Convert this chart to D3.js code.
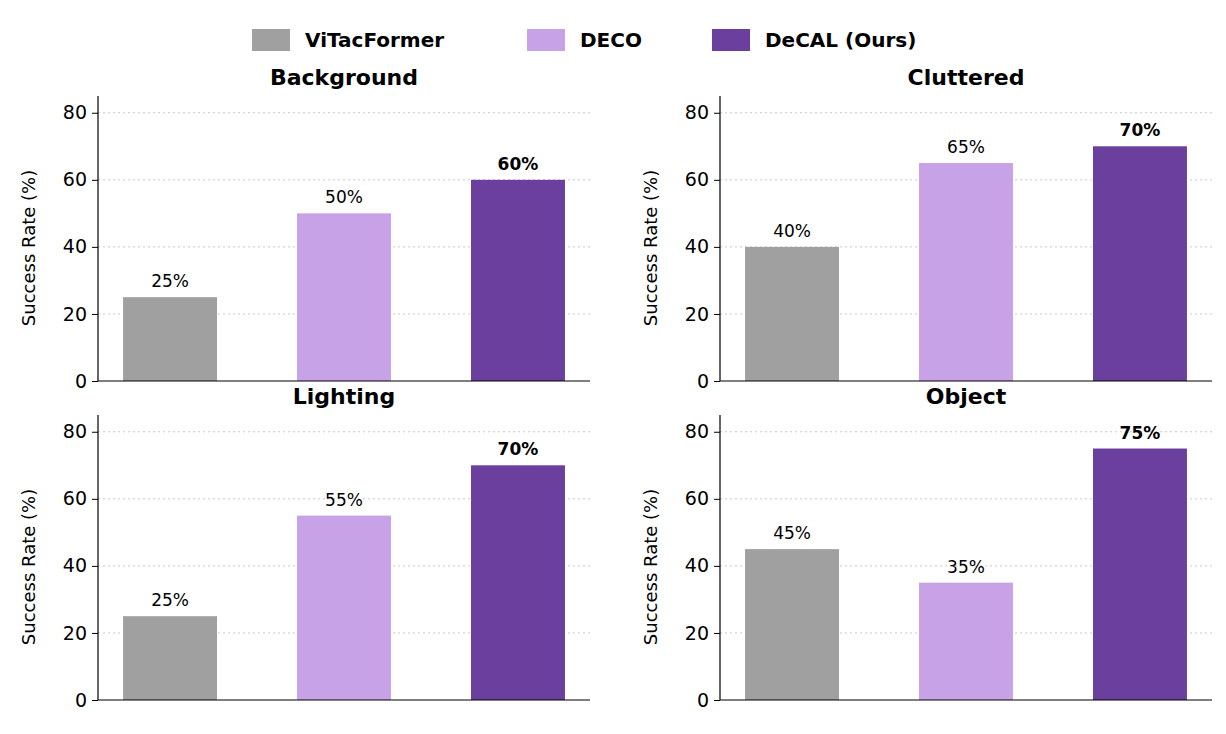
<!DOCTYPE html>
<html>
<head>
<meta charset="utf-8">
<script src="https://cdn.jsdelivr.net/npm/d3@7"></script>
<style>
  body { margin: 0; background: #fff; }
  text { font-family: "DejaVu Sans", sans-serif; }
</style>
</head>
<body>
<div id="chart"></div>
<script>
// Data
var methods = ["ViTacFormer", "DECO", "DeCAL (Ours)"];
var colors = ["#a0a0a0", "#c8a2e6", "#6b3f9e"];
var panels = ["Background", "Cluttered", "Lighting", "Object"];
var background = [25, 50, 60];
var cluttered = [40, 65, 70];
var lighting = [25, 55, 70];
var object = [45, 35, 75];
var yTicks = [0, 20, 40, 60, 80];

var seriesByPanel = [background, cluttered, lighting, object];

var svg = d3.select("#chart").append("svg")
    .attr("width", 1226)
    .attr("height", 734);

// Legend
var legendX = [252, 527, 712];
methods.forEach(function (m, i) {
    svg.append("rect")
        .attr("x", legendX[i]).attr("y", 29)
        .attr("width", 38).attr("height", 22)
        .attr("fill", colors[i]);
    svg.append("text")
        .attr("x", legendX[i] + 53).attr("y", 47)
        .attr("font-size", 20).attr("font-weight", "bold")
        .text(m);
});

// Panel positions (left, top of y-range at value 0)
var panelPos = [
    {left: 98, right: 590, zero: 381},
    {left: 720, right: 1212, zero: 381},
    {left: 98, right: 590, zero: 700},
    {left: 720, right: 1212, zero: 700}
];

panelPos.forEach(function (p, k) {
    var vals = seriesByPanel[k];
    var g = svg.append("g");

    var x = d3.scaleBand()
        .domain(methods)
        .range([p.left, p.right])
        .paddingInner(0.46)
        .paddingOuter(0.144);
    var y = d3.scaleLinear()
        .domain([0, 85])
        .range([p.zero, p.zero - 285]);

    // gridlines
    g.selectAll(".grid")
        .data(yTicks.slice(1))
        .enter().append("line")
        .attr("x1", p.left).attr("x2", p.right)
        .attr("y1", function (d) { return y(d); })
        .attr("y2", function (d) { return y(d); })
        .attr("stroke", "#c8c8c8")
        .attr("stroke-dasharray", "2,3");

    // bars
    g.selectAll(".bar")
        .data(vals)
        .enter().append("rect")
        .attr("x", function (d, i) { return x(methods[i]); })
        .attr("y", function (d) { return y(d); })
        .attr("width", x.bandwidth())
        .attr("height", function (d) { return y(0) - y(d); })
        .attr("fill", function (d, i) { return colors[i]; });

    // value labels
    g.selectAll(".lbl")
        .data(vals)
        .enter().append("text")
        .attr("x", function (d, i) { return x(methods[i]) + x.bandwidth() / 2; })
        .attr("y", function (d) { return y(d) - 10; })
        .attr("text-anchor", "middle")
        .attr("font-size", 17)
        .attr("font-weight", function (d, i) { return i === 2 ? "bold" : "normal"; })
        .text(function (d) { return d + "%"; });

    // axes
    var leftAxis = d3.axisLeft(y).tickValues(yTicks).tickSize(6).tickPadding(5);
    var ya = g.append("g")
        .attr("transform", "translate(" + p.left + ",0)")
        .call(leftAxis);
    ya.selectAll("text").attr("font-size", 19).attr("font-family", "DejaVu Sans");
    ya.select(".domain").attr("d", "M0," + (p.zero - 285) + "V" + p.zero).attr("stroke", "#000").attr("stroke-width", 1.2);

    g.append("line")
        .attr("x1", p.left).attr("x2", p.right)
        .attr("y1", p.zero).attr("y2", p.zero)
        .attr("stroke", "#000").attr("stroke-width", 1.2);

    // y label
    g.append("text")
        .attr("transform", "translate(" + (p.left - 63) + "," + (p.zero - 133) + ") rotate(-90)")
        .attr("text-anchor", "middle")
        .attr("font-size", 18)
        .text("Success Rate (%)");

    // title
    g.append("text")
        .attr("x", (p.left + p.right) / 2)
        .attr("y", p.zero - 296)
        .attr("text-anchor", "middle")
        .attr("font-size", 22)
        .attr("font-weight", "bold")
        .text(panels[k]);
});
</script>
</body>
</html>
